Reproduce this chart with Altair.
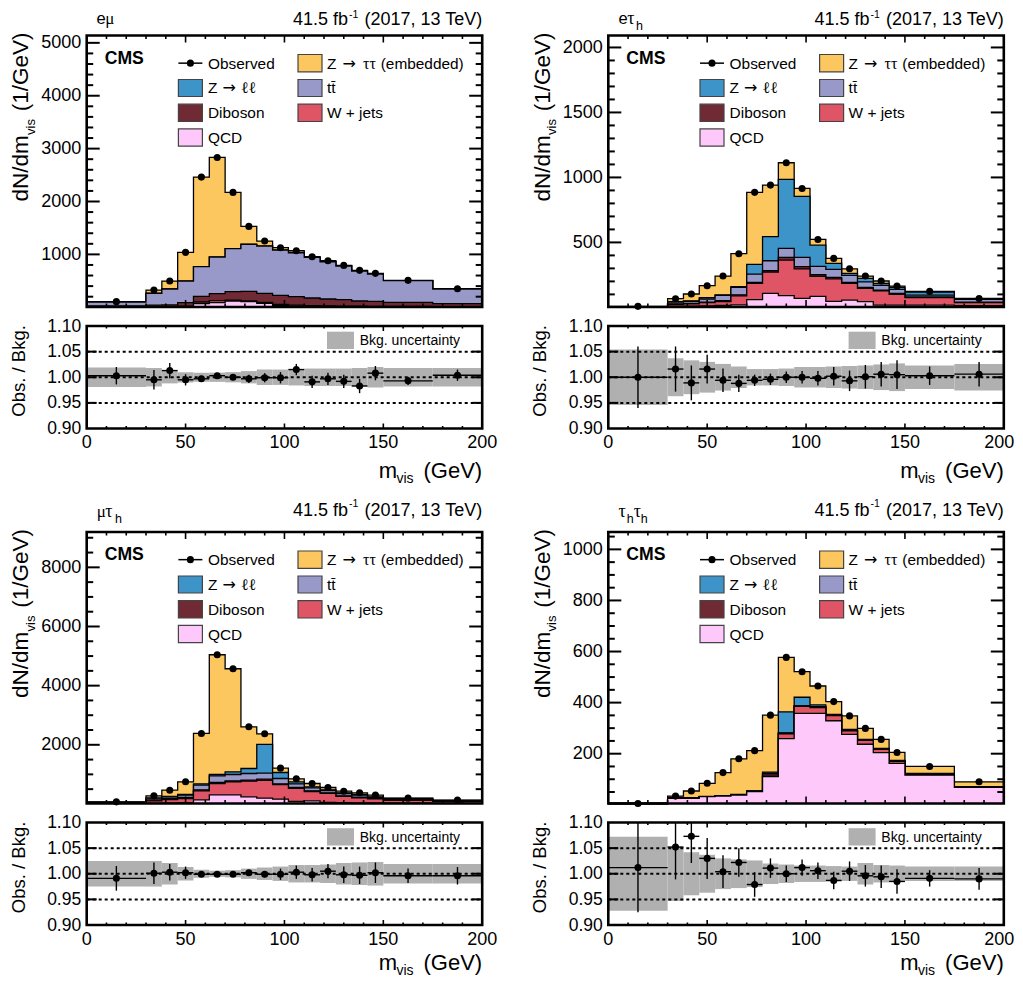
import altair as alt

EDGES = [0, 30, 38, 46, 54, 62, 70, 78, 86, 94, 102, 110, 118, 126, 134, 142, 150, 175, 200]
CENTERS = [15, 34, 42, 50, 58, 66, 74, 82, 90, 98, 106, 114, 122, 130, 138, 146, 162.5, 187.5]

C_ZTT = "#fdc75f"
C_ZLL = "#3d94c8"
C_TT = "#9999c9"
C_DB = "#702a33"
C_WJ = "#e05566"
C_QCD = "#ffc8fb"
C_BAND = "#b0b0b0"

# --- e mu ---
em_total = [106, 326, 496, 1038, 2461, 2833, 2172, 1529, 1252, 1126, 1069, 956, 880, 792, 698, 641, 509, 351]
em_zll = [101, 265, 347, 498, 770, 953, 1110, 1192, 1160, 1085, 1034, 945, 863, 782, 687, 630, 504, 347]
em_tt = [100, 263, 345, 496, 767, 950, 1107, 1189, 1157, 1082, 1031, 943, 861, 780, 685, 628, 502, 345]
em_db = [25, 40, 45, 87, 206, 257, 295, 301, 263, 225, 200, 175, 156, 143, 118, 112, 93, 68]
em_wj = [8, 10, 12, 20, 100, 125, 135, 120, 90, 55, 42, 30, 25, 22, 20, 18, 15, 12]
em_qcd = [6, 8, 8, 10, 68, 87, 118, 105, 74, 30, 20, 12, 10, 8, 8, 8, 8, 8]
em_r = [1.003, .995, 1.013, .995, .997, 1.003, 1.000, .997, .999, .999, 1.015, .991, .997, .992, .983, 1.008, .993, 1.004]
em_e = [.017, .019, .015, .011, .006, .005, .006, .008, .009, .011, .011, .012, .012, .013, .014, .014, .008, .011]
em_b = [.019, .018, .012, .010, .009, .009, .010, .012, .015, .015, .016, .017, .017, .017, .018, .020, .018, .018]

# --- e tau_h ---
et_total = [8, 67, 103, 167, 241, 413, 885, 941, 1113, 915, 523, 377, 297, 241, 203, 164, 123, 69]
et_zll = [5, 44, 49, 74, 97, 159, 331, 544, 985, 854, 479, 338, 262, 223, 185, 154, 118, 64]
et_tt = [4, 41, 46, 64, 92, 154, 256, 359, 454, 385, 315, 292, 246, 197, 169, 138, 95, 62]
et_db = [3, 26, 31, 41, 51, 97, 192, 282, 385, 313, 251, 231, 192, 154, 133, 108, 80, 41]
et_wj = [2, 23, 28, 36, 45, 89, 185, 272, 364, 297, 238, 220, 185, 146, 128, 100, 75, 36]
et_qcd = [1, 10, 10, 12, 15, 20, 59, 108, 90, 69, 85, 46, 56, 44, 18, 18, 18, 13]
et_r = [1.000, 1.016, .989, 1.016, .994, .988, .994, .996, 1.000, 1.000, .998, 1.002, .993, 1.001, 1.006, 1.005, 1.003, 1.006]
et_e = [.060, .044, .034, .028, .023, .017, .011, .011, .011, .012, .014, .018, .020, .023, .024, .028, .018, .024]
et_b = [.054, .037, .033, .030, .026, .021, .016, .016, .017, .020, .020, .021, .022, .023, .025, .027, .023, .026]

# --- mu tau_h ---
mt_total = [71, 274, 466, 748, 2383, 5045, 4571, 2609, 2372, 1211, 850, 692, 556, 432, 376, 297, 196, 128]
mt_zll = [60, 207, 252, 320, 680, 996, 1086, 1199, 2011, 1064, 748, 579, 477, 376, 320, 241, 185, 117]
mt_tt = [50, 173, 241, 297, 635, 951, 996, 1030, 1041, 861, 680, 545, 455, 353, 297, 218, 162, 105]
mt_db = [40, 128, 184, 218, 477, 726, 782, 805, 838, 680, 556, 444, 376, 274, 229, 184, 139, 94]
mt_wj = [30, 105, 150, 180, 440, 690, 750, 770, 800, 650, 530, 420, 355, 255, 210, 170, 125, 85]
mt_qcd = [16, 20, 25, 40, 139, 308, 308, 241, 196, 162, 83, 105, 50, 40, 30, 25, 25, 20]
mt_r = [.991, 1.001, 1.003, 1.002, .999, .999, .999, 1.002, .999, .999, 1.003, .998, 1.005, .998, .997, 1.002, .996, .996]
mt_e = [.024, .021, .016, .012, .005, .004, .005, .005, .006, .011, .013, .013, .014, .016, .017, .020, .014, .017]
mt_b = [.025, .025, .021, .013, .008, .006, .007, .010, .012, .014, .017, .017, .018, .021, .022, .023, .019, .019]

# --- tau_h tau_h ---
tt_total = [5, 34, 54, 84, 126, 180, 212, 351, 577, 521, 465, 404, 348, 299, 256, 205, 150, 90]
tt_zll = [4.5, 29, 28, 33, 36, 41, 54, 128, 364, 421, 391, 354, 295, 256, 221, 174, 123, 71]
tt_tt = [4, 28, 27, 32, 35, 40, 53, 123, 281, 387, 384, 351, 292, 254, 219, 172, 121, 70]
tt_db = [3.5, 27, 26, 32, 35, 39, 52, 121, 280, 386, 381, 350, 290, 253, 218, 171, 120, 69.5]
tt_wj = [3, 26, 26, 32, 34.5, 38.5, 52, 112, 278, 385, 380, 349, 289, 252, 217, 170, 119, 69]
tt_qcd = [2, 25, 25, 32, 34, 38, 52, 110, 259, 358, 358, 329, 276, 237, 204, 162, 116, 68]
tt_r = [1.012, 1.052, 1.073, 1.030, 1.004, 1.022, .979, 1.011, 1.000, 1.012, 1.006, .987, 1.005, .996, .994, .985, .991, .990]
tt_e = [.087, .063, .052, .040, .032, .028, .024, .019, .016, .016, .016, .017, .019, .021, .022, .024, .016, .021]
tt_b = [.072, .053, .042, .037, .030, .028, .026, .020, .018, .016, .016, .015, .014, .021, .017, .016, .014, .014]

X_TICKS = [0, 50, 100, 150, 200]
X_MINOR = [v for v in range(10, 200, 10) if v % 50]
R_TICKS = [0.90, 0.95, 1.00, 1.05, 1.10]

W = 395.5
H_TOP = 271.5
H_RAT = 102.5
DOT = 50
LEG = 15.4
SANS = "Liberation Sans"
SERIF = "Liberation Serif"
DEJA = "DejaVu Sans"
ONE = alt.Data(values=[{}])


def label(text, x, y, size, font=SANS, align="left", angle=0, weight="normal"):
    return alt.Chart(ONE).mark_text(
        font=font, fontSize=size, align=align, baseline="alphabetic", angle=angle,
        fontWeight=weight, color="black",
    ).encode(x=alt.value(x), y=alt.value(y), text=alt.value(text))


def box(x0, x1, y0, y1, fill, stroke=None):
    kw = dict(stroke=stroke, strokeWidth=1.2) if stroke else dict(strokeWidth=0)
    return alt.Chart(ONE).mark_rect(fill=fill, **kw).encode(
        x=alt.value(x0), x2=alt.value(x1), y=alt.value(y0), y2=alt.value(y1))


def ticks(ox, oy, height, xs, ys, ymajor, yminor, ylen, xlen):
    out = []
    for vals, ln in ((ymajor, ylen), (yminor, ylen / 2)):
        if not vals:
            continue
        d = alt.Data(values=[{"v": float(v)} for v in vals])
        for a, b in ((ox, ox + ln), (ox + W - ln, ox + W)):
            out.append(alt.Chart(d).mark_rule(color="black", strokeWidth=2.0).encode(
                y=alt.Y("v:Q", scale=ys, axis=None),
                x=alt.value(a), x2=alt.value(b)))
    for vals, ln in (([50, 100, 150], xlen), (X_MINOR, xlen / 2)):
        d = alt.Data(values=[{"v": float(v)} for v in vals])
        for a, b in ((oy, oy + ln), (oy + height - ln, oy + height)):
            out.append(alt.Chart(d).mark_rule(color="black", strokeWidth=1.6).encode(
                x=alt.X("v:Q", scale=xs, axis=None),
                y=alt.value(a), y2=alt.value(b)))
    return out


def frame(ox, oy, height):
    return alt.Chart(ONE).mark_rect(fillOpacity=0, stroke="black", strokeWidth=2.6).encode(
        x=alt.value(ox), x2=alt.value(ox + W), y=alt.value(oy), y2=alt.value(oy + height))


def ylabels(ox, ys, vals, fmt, size):
    d = alt.Data(values=[{"v": float(v), "t": format(v, fmt)} for v in vals])
    return alt.Chart(d).mark_text(font=SANS, fontSize=size, align="right", baseline="middle", color="black", dy=0.5).encode(
        y=alt.Y("v:Q", scale=ys, axis=None), x=alt.value(ox - 5.5), text="t:N")


def legend_layers(ox, oy):
    L1, L2 = ox + 91.7, ox + 211.3
    T1, T2 = ox + 121.3, ox + 240.3
    rows = [(19, 36.3), (44, 61), (68.7, 86), (93.3, 110.7)]
    base = [oy + r[1] - 3.2 for r in rows]
    out = []
    y_o = oy + (rows[0][0] + rows[0][1]) / 2
    out.append(alt.Chart(ONE).mark_rule(color="black", strokeWidth=1.5).encode(
        x=alt.value(L1), x2=alt.value(L1 + 24), y=alt.value(y_o)))
    out.append(alt.Chart(ONE).mark_point(filled=True, color="black", size=DOT, opacity=1).encode(
        x=alt.value(L1 + 12), y=alt.value(y_o)))
    out.append(label("Observed", T1, base[0], LEG))
    for (x, row, col) in ((L2, 0, C_ZTT), (L1, 1, C_ZLL), (L2, 1, C_TT), (L1, 2, C_DB), (L2, 2, C_WJ), (L1, 3, C_QCD)):
        out.append(box(x, x + 24, oy + rows[row][0], oy + rows[row][1], col, "#444444"))
    out.append(label("Z", T2, base[0], LEG))
    out.append(label("\u2192", ox + 255.7, base[0], 16, DEJA))
    out.append(label("\u03c4\u03c4", ox + 276.3, base[0], 16, SERIF))
    out.append(label("(embedded)", ox + 294, base[0], LEG))
    out.append(label("Z", T1, base[1], LEG))
    out.append(label("\u2192", ox + 135.7, base[1], 16, DEJA))
    out.append(label("\u2113\u2113", ox + 154, base[1], 16, SERIF))
    out.append(label("t\u0074\u0304", T2, base[1], LEG))
    out.append(label("Diboson", T1, base[2], LEG))
    out.append(label("W + jets", T2, base[2], LEG))
    out.append(label("QCD", T1, base[3], LEG))
    return out


def channel_layers(kind, ox, oy, cdy):
    base = oy - 15.3 + cdy
    sub = oy - 9.3 + cdy
    if kind == "em":
        parts = [("e", 9.7, base, SANS, 16.5), ("\u03bc", 18.5, base, SERIF, 17)]
    elif kind == "et":
        parts = [("e", 10.3, base, SANS, 16.5), ("\u03c4", 19, base, SERIF, 18), ("h", 27.7, sub, SANS, 12.5)]
    elif kind == "mt":
        parts = [("\u03bc", 10, base, SERIF, 17), ("\u03c4", 18.5, base, SERIF, 18), ("h", 28.3, sub, SANS, 12.5)]
    else:
        parts = [("\u03c4", 10.3, base, SERIF, 18), ("h", 18.5, sub, SANS, 12.5),
                 ("\u03c4", 25.5, base, SERIF, 18), ("h", 32.5, sub, SANS, 12.5)]
    return [label(t, ox + x, y, s, f) for t, x, y, f, s in parts]


def top_panel(kind, ox, oy, series, total, ydom, major, minor, hdr, sup, cdy):
    xs = alt.Scale(domain=[0, 200], range=[ox, ox + W], nice=False, zero=False)
    ys = alt.Scale(domain=ydom, range=[oy + H_TOP, oy], nice=False, zero=False, clamp=True)
    layers = []
    for vals, col in series:
        rows = [{"x": e, "y": v, "b": ydom[0]} for e, v in zip(EDGES, list(vals) + [vals[-1]])]
        layers.append(alt.Chart(alt.Data(values=rows)).mark_area(interpolate="step-after", color=col, opacity=1).encode(
            x=alt.X("x:Q", scale=xs, axis=None),
            y=alt.Y("y:Q", scale=ys, axis=None),
            y2="b:Q"))
        layers.append(alt.Chart(alt.Data(values=rows)).mark_line(interpolate="step-after", color="black", strokeWidth=1.3).encode(
            x=alt.X("x:Q", scale=xs, axis=None),
            y=alt.Y("y:Q", scale=ys, axis=None)))
    obs = alt.Data(values=[{"x": c, "y": v} for c, v in zip(CENTERS, total)])
    layers.append(alt.Chart(obs).mark_point(filled=True, color="black", size=DOT, opacity=1).encode(
        x=alt.X("x:Q", scale=xs, axis=None), y=alt.Y("y:Q", scale=ys, axis=None)))
    layers += ticks(ox, oy, H_TOP, xs, ys, major, minor, 13, 7)
    layers.append(frame(ox, oy, H_TOP))
    layers.append(ylabels(ox, ys, major, "d", 18))
    layers.append(label("CMS", ox + 18, oy + 28, 17.6, weight="bold"))
    layers += legend_layers(ox, oy)
    layers += channel_layers(kind, ox, oy, cdy)
    layers.append(label("41.5 fb", ox + 261.3, oy + hdr, 18, align="right"))
    layers.append(label("-1", ox + 262.3, oy + sup, 10.5))
    layers.append(label("(2017, 13 TeV)", ox + W, oy + hdr, 18, align="right"))
    layers.append(label("dN/dm", ox - 58.4, oy + 166, 22.5, angle=270))
    layers.append(label("vis", ox - 52, oy + 99.5, 13, angle=270))
    layers.append(label("(1/GeV)", ox - 58.4, oy + 75.7, 22.5, angle=270))
    return layers


def ratio_panel(ox, oy, r, e, b, xt_dy, last_dx):
    xs = alt.Scale(domain=[0, 200], range=[ox, ox + W], nice=False, zero=False)
    ys = alt.Scale(domain=[0.9, 1.1], range=[oy + H_RAT, oy], nice=False, zero=False, clamp=True)
    band = alt.Data(values=[{"a": EDGES[i], "c": EDGES[i + 1], "lo": 1 - b[i], "hi": 1 + b[i]} for i in range(18)])
    layers = [alt.Chart(band).mark_rect(color=C_BAND, strokeWidth=0).encode(
        x=alt.X("a:Q", scale=xs, axis=None), x2="c:Q",
        y=alt.Y("lo:Q", scale=ys, axis=None), y2="hi:Q")]
    dots = alt.Data(values=[{"v": v} for v in (0.95, 1.0, 1.05)])
    layers.append(alt.Chart(dots).mark_rule(color="black", strokeWidth=2, strokeDash=[3, 3]).encode(
        y=alt.Y("v:Q", scale=ys, axis=None), x=alt.value(ox), x2=alt.value(ox + W)))
    rows = [{"c": CENTERS[i], "a": EDGES[i], "d": EDGES[i + 1], "r": r[i], "lo": r[i] - e[i], "hi": r[i] + e[i]} for i in range(18)]
    d = alt.Data(values=rows)
    layers.append(alt.Chart(d).mark_rule(color="black", strokeWidth=1.4).encode(
        x=alt.X("a:Q", scale=xs, axis=None), x2="d:Q", y=alt.Y("r:Q", scale=ys, axis=None)))
    layers.append(alt.Chart(d).mark_rule(color="black", strokeWidth=1.4).encode(
        x=alt.X("c:Q", scale=xs, axis=None), y=alt.Y("lo:Q", scale=ys, axis=None), y2="hi:Q"))
    layers.append(alt.Chart(d).mark_point(filled=True, color="black", size=DOT, opacity=1).encode(
        x=alt.X("c:Q", scale=xs, axis=None), y=alt.Y("r:Q", scale=ys, axis=None)))
    layers += ticks(ox, oy, H_RAT, xs, ys, [0.95, 1.0, 1.05], [], 10, 5)
    layers.append(box(ox + 240.3, ox + 267.3, oy + 5.7, oy + 23, C_BAND))
    layers.append(label("Bkg. uncertainty", ox + 273, oy + 19, 14))
    layers.append(frame(ox, oy, H_RAT))
    layers.append(ylabels(ox, ys, R_TICKS, ".2f", 17.5))
    for vals, dx in ((X_TICKS[:-1], 0), (X_TICKS[-1:], last_dx)):
        xt = alt.Data(values=[{"v": float(v), "t": str(v)} for v in vals])
        layers.append(alt.Chart(xt).mark_text(font=SANS, fontSize=18, align="center", baseline="alphabetic", color="black", dx=dx).encode(
            x=alt.X("v:Q", scale=xs, axis=None), y=alt.value(oy + H_RAT + 19.5), text="t:N"))
    layers.append(label("Obs. / Bkg.", ox - 62, oy + 90.7, 18.5, angle=270))
    layers.append(label("(GeV)", ox + W, oy + 152 + xt_dy, 22, align="right"))
    layers.append(label("m", ox + 292, oy + 152 + xt_dy, 22))
    layers.append(label("vis", ox + 309.7, oy + 157.3 + xt_dy, 14))
    return layers


def minors(step, lo, hi, major):
    out, v = [], step
    while v < hi:
        if v > lo and v not in major:
            out.append(v)
        v += step
    return out


def panel(kind, ox, oy_top, oy_rat, t, zll, tt, db, wj, qcd, ydom, major, step, r, e, b, hdr, sup, cdy, xt_dy, last_dx):
    series = [(t, C_ZTT), (zll, C_ZLL), (tt, C_TT), (db, C_DB), (wj, C_WJ), (qcd, C_QCD)]
    return (top_panel(kind, ox, oy_top, series, t, ydom, major, minors(step, ydom[0], ydom[1], major), hdr, sup, cdy)
            + ratio_panel(ox, oy_rat, r, e, b, xt_dy, last_dx))


all_layers = []
all_layers += panel("em", 78.7, 27.5, 318, em_total, em_zll, em_tt, em_db, em_wj, em_qcd, [5, 5139],
                    [1000, 2000, 3000, 4000, 5000], 200, em_r, em_e, em_b, -11, -17.5, 3.8, 0, 0)
all_layers += panel("et", 600.3, 27.5, 318, et_total, et_zll, et_tt, et_db, et_wj, et_qcd, [3, 2092],
                    [500, 1000, 1500, 2000], 100, et_r, et_e, et_b, -11, -17.5, 3.8, 0, -4.5)
all_layers += panel("mt", 78.7, 524, 814.5, mt_total, mt_zll, mt_tt, mt_db, mt_wj, mt_qcd, [15, 9195],
                    [2000, 4000, 6000, 8000], 500, mt_r, mt_e, mt_b, -16, -24.7, 0, -5, 0)
all_layers += panel("tt", 600.3, 524, 814.5, tt_total, tt_zll, tt_tt, tt_db, tt_wj, tt_qcd, [5, 1068],
                    [200, 400, 600, 800, 1000], 50, tt_r, tt_e, tt_b, -16, -24.7, 0, -5, -4.5)

chart = alt.layer(*all_layers).resolve_scale(x="independent", y="independent").properties(
    width=1007, height=969, autosize="none", padding=0, background="white"
).configure_view(stroke=None)

chart.save("out.html", embed_options={"renderer": "svg", "actions": False})
